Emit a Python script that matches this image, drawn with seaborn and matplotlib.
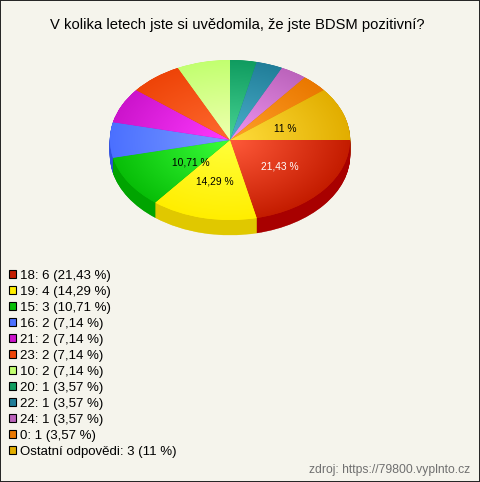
import numpy as np
import seaborn as sns
import matplotlib
matplotlib.use("Agg")
import matplotlib.pyplot as plt
from matplotlib.colors import LinearSegmentedColormap
from matplotlib.patches import Rectangle, Patch

TITLE = "V kolika letech jste si uvědomila, že jste BDSM pozitivní?"
SOURCE = "zdroj: https://79800.vyplnto.cz"
categories = ["18", "19", "15", "16", "21", "23", "10", "20", "22", "24", "0", "Ostatní odpovědi"]
counts = [6, 4, 3, 2, 2, 2, 2, 1, 1, 1, 1, 3]
percent_text = ["21,43 %", "14,29 %", "10,71 %", "7,14 %", "7,14 %", "7,14 %", "7,14 %",
                "3,57 %", "3,57 %", "3,57 %", "3,57 %", "11 %"]
outer_colors = ["#C41C00", "#FFEE00", "#08BE08", "#4B70FF", "#CC14CC", "#EE4408", "#C2FF70",
                "#109C60", "#217E99", "#BC64BC", "#EA7800", "#E2AE00"]
inner_colors = ["#FF5A3A", "#FFFF3A", "#3AFF3A", "#7C9CFF", "#FF3AFF", "#FF6A30", "#F0FFB0",
                "#48D494", "#4CB0CC", "#F095F0", "#FFA028", "#FFDD3C"]
side_colors = ["#A80000", "#E0C800", "#00A400", "#3050E0", "#A000A0", "#C03000", "#A0D050",
               "#007040", "#105870", "#904090", "#C05000", "#B08000"]
shown_labels = {0: ("#FFFFFF", 0, 0), 1: ("#000000", -1, 0), 2: ("#000000", 15, 0), 11: ("#000000", -5, -3)}

sns.set_theme(style="white")
plt.rcParams["font.family"] = ["Liberation Sans", "DejaVu Sans"]
BG = "#F5F4EC"
W, H = 480, 482
CX, CY, RX, RY, DEPTH = 230, 140, 120, 80, 15

fig = plt.figure(figsize=(W / 100, H / 100), dpi=100, facecolor=BG)
ax = fig.add_axes([0, 0, 1, 1], facecolor=BG)

# extruded wall: stacked pies in the darker colours
for d in np.arange(DEPTH, 0, -0.5) / RY:
    layer, _ = ax.pie(counts, colors=sns.color_palette(side_colors), startangle=0, counterclock=False,
                      center=(0, -d), radius=1, frame=False, wedgeprops={"linewidth": 0.3})
    for w in layer:
        w.set_edgecolor(w.get_facecolor())

wedges, _ = ax.pie(counts, colors=sns.color_palette(outer_colors), startangle=0,
                   counterclock=False, center=(0, 0), radius=1, frame=False,
                   wedgeprops={"linewidth": 0.0})
ax.set_aspect("auto")
xlim = (-CX / RX, (W - CX) / RX)
ylim = (-(H - CY) / RY, CY / RY)

# radial shading on the top face
gx, gy = np.meshgrid(np.linspace(-1, 1, 300), np.linspace(-1, 1, 300))
radial = np.clip(np.hypot(gx, gy), 0, 1)
for w, c0, c1 in zip(wedges, inner_colors, outer_colors):
    cmap = LinearSegmentedColormap.from_list("g", [c0, c1])
    im = ax.imshow(radial, cmap=cmap, extent=(-1, 1, -1, 1), origin="lower",
                   aspect="auto", zorder=w.get_zorder() + 0.5, vmin=0, vmax=1,
                   interpolation="bilinear")
    im.set_clip_path(w)
ax.set_xlim(xlim)
ax.set_ylim(ylim)
ax.set_axis_off()

# percent labels inside the slices
for i, (col, ox, oy) in shown_labels.items():
    w = wedges[i]
    mid = np.deg2rad((w.theta1 + w.theta2) / 2)
    ax.annotate(percent_text[i], xy=(0.53 * np.cos(mid), 0.53 * np.sin(mid)),
                xytext=(ox * 0.72, oy * 0.72), textcoords="offset points",
                ha="center", va="center", color=col, fontsize=7.4, zorder=20)

fig.text(237.5 / W, 1 - 24.5 / H, TITLE, ha="center", va="center", fontsize=10.6, color="#000000")
fig.text(470 / W, 1 - 469.5 / H, SOURCE, ha="right", va="center", fontsize=8.7, color="#707070")

handles = [Patch(facecolor=c, edgecolor="#000000", linewidth=0.8) for c in outer_colors]
labels = [f"{n}: {v} ({p})" for n, v, p in zip(categories, counts, percent_text)]
fig.legend(handles, labels, loc="upper left", bbox_to_anchor=(5 / W, 1 - 266 / H),
           bbox_transform=fig.transFigure, frameon=False, fontsize=9.5,
           handlelength=0.55, handleheight=0.55, handletextpad=0.28, labelspacing=0.3,
           borderpad=0.3, borderaxespad=0, labelcolor="#000000")

fig.add_artist(Rectangle((0, 0), 1, 1, transform=fig.transFigure, fill=False,
                         edgecolor="#222222", linewidth=1.4))
fig.savefig("out.png", dpi=100, facecolor=BG)
